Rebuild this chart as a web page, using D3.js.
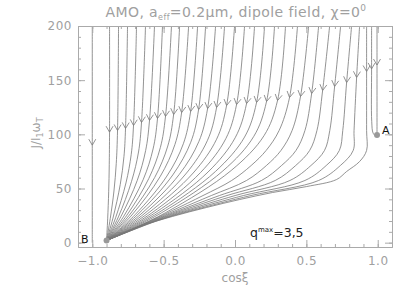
<!DOCTYPE html>
<html>
<head>
<meta charset="utf-8">
<script src="https://cdn.jsdelivr.net/npm/d3@7"></script>
<style>
body { margin: 0; background: #fff; }
text { font-family: "DejaVu Sans", sans-serif; }
</style>
</head>
<body>
<svg id="chart" width="415" height="297"></svg>
<script>
// axis ticks
var xTicks = [-1.0, -0.5, 0.0, 0.5, 1.0];
var yTicks = [0, 50, 100, 150, 200];
var xMinor = d3.range(-1.1, 1.11, 0.1);
var yMinor = d3.range(0, 201, 10);

// attractor points
var pointA = [0.995, 99.5];
var pointB = [-0.9, 2];

// trajectories [cos xi, J], ordered from top to bottom; index 1 carries the arrow
var poleLine = [[-1.0, 200], [-1.0, 90], [-1.0, 0]];

var leftFan = [
  [[-0.879,200],[-0.879,102],[-0.881,72],[-0.885,47],[-0.892,22],[-0.9,2]],
  [[-0.816,200],[-0.823,103.5],[-0.832,73.1],[-0.848,47.7],[-0.874,22.3],[-0.9,2]],
  [[-0.753,200],[-0.767,105.4],[-0.778,79.5],[-0.804,53.7],[-0.855,22.7],[-0.9,2]],
  [[-0.690,200],[-0.711,108.1],[-0.727,81.6],[-0.764,55.1],[-0.836,23.2],[-0.9,2]],
  [[-0.627,200],[-0.655,110.9],[-0.676,83.7],[-0.725,56.5],[-0.817,23.8],[-0.9,2]],
  [[-0.564,200],[-0.599,112.8],[-0.626,85.1],[-0.685,57.4],[-0.799,24.2],[-0.9,2]],
  [[-0.508,200],[-0.543,114.6],[-0.574,86.5],[-0.643,58.3],[-0.779,24.5],[-0.9,2]],
  [[-0.445,200],[-0.487,116.5],[-0.523,87.8],[-0.604,59.2],[-0.760,24.9],[-0.9,2]],
  [[-0.388,200],[-0.430,118.3],[-0.471,89.2],[-0.563,60.1],[-0.741,25.3],[-0.9,2]],
  [[-0.325,200],[-0.374,120.1],[-0.421,90.6],[-0.524,61.1],[-0.722,25.6],[-0.9,2]],
  [[-0.262,200],[-0.311,121.1],[-0.362,91.3],[-0.477,61.5],[-0.700,25.8],[-0.9,2]],
  [[-0.206,200],[-0.255,122.9],[-0.310,92.7],[-0.436,62.5],[-0.680,26.2],[-0.9,2]],
  [[-0.136,200],[-0.192,123.8],[-0.253,93.4],[-0.391,62.9],[-0.659,26.4],[-0.9,2]],
  [[-0.073,200],[-0.129,124.8],[-0.194,94.1],[-0.345,63.4],[-0.637,26.6],[-0.9,2]],
  [[-0.003,200],[-0.059,126.6],[-0.129,95.5],[-0.293,64.3],[-0.612,26.9],[-0.9,2]],
  [[0.067,200],[0.011,127.5],[-0.064,96.1],[-0.241,64.8],[-0.587,27.1],[-0.9,2]],
  [[0.137,200],[0.081,128.4],[0.001,96.8],[-0.189,65.2],[-0.563,27.3],[-0.9,2]],
  [[0.207,200],[0.151,129.4],[0.067,97.5],[-0.137,65.7],[-0.538,27.5],[-0.9,2]],
  [[0.277,200],[0.221,130.3],[0.132,98.2],[-0.085,66.2],[-0.513,27.7],[-0.9,2]],
  [[0.354,200],[0.298,131.2],[0.204,98.9],[-0.027,66.6],[-0.485,27.8],[-0.9,2]]
];

var rightFan = [
  [[0.438,200],[0.382,134.0],[0.309,103.5],[0.218,85.1],[0.113,71.2],[-0.023,57.4],[-0.224,43.5],[-0.438,29.7],[-0.588,20.5],[-0.9,2]],
  [[0.516,200],[0.459,134.9],[0.400,103.5],[0.322,85.1],[0.220,71.2],[0.081,57.4],[-0.166,43.5],[-0.414,29.7],[-0.579,20.5],[-0.9,2]],
  [[0.586,200],[0.537,137.7],[0.490,103.5],[0.427,85.1],[0.326,71.2],[0.186,57.4],[-0.109,43.5],[-0.391,29.7],[-0.571,20.5],[-0.9,2]],
  [[0.663,200],[0.614,140.5],[0.574,103.5],[0.523,85.1],[0.425,71.2],[0.282,57.4],[-0.056,43.5],[-0.369,29.7],[-0.562,20.5],[-0.9,2]],
  [[0.740,200],[0.698,144.2],[0.664,103.5],[0.627,85.1],[0.532,71.2],[0.385,57.4],[0.001,43.5],[-0.345,29.7],[-0.554,20.5],[-0.9,2]],
  [[0.817,200],[0.782,147.8],[0.755,103.5],[0.731,85.1],[0.639,71.2],[0.490,57.4],[0.059,43.5],[-0.322,29.7],[-0.545,20.5],[-0.9,2]],
  [[0.873,200],[0.852,152.5],[0.834,103.5],[0.828,85.1],[0.738,71.2],[0.586,57.4],[0.112,43.5],[-0.300,29.7],[-0.538,20.5],[-0.9,2]]
];

// lowest trajectory, hugging the bottom of the bundle
var separatrix = [[0.922,200],[0.922,158],[0.922,103.5],[0.922,85.1],[0.873,74.9],[0.782,65.7],[0.712,58.3],
  [0.502,51.8],[0.263,46.3],[0.032,39.8],[-0.199,32.5],[-0.438,24.2],[-0.669,14.9],[-0.9,2]];

// the two that end on A
var toA = [
  [[0.957,200],[0.957,160.4],[0.958,112],[0.968,101],[0.99,98]],
  [[0.995,200],[0.995,164],[0.995,100]]
];

var allTracks = [poleLine].concat(leftFan, rightFan, [separatrix], toA);

var svg = d3.select('#chart');
var x = d3.scaleLinear().domain([-1.1, 1.1]).range([78, 392]);
var y = d3.scaleLinear().domain([-4, 200]).range([247, 26]);

var axisColor = '#aaa';
var textColor = '#a0a0a0';
var trackColor = '#777';

svg.append('clipPath').attr('id', 'plotClip')
  .append('rect').attr('x', 78).attr('y', 26).attr('width', 314).attr('height', 221);

var line = d3.line()
  .x(function(d) { return x(d[0]); })
  .y(function(d) { return y(d[1]); })
  .curve(d3.curveCatmullRom.alpha(0.5));

var trackG = svg.append('g').attr('clip-path', 'url(#plotClip)');
trackG.selectAll('path.track')
  .data(allTracks)
  .enter().append('path')
  .attr('class', 'track')
  .attr('d', line)
  .attr('fill', 'none')
  .attr('stroke', trackColor)
  .attr('stroke-width', 0.8);

// V shaped arrowheads at point index 1
trackG.selectAll('path.arrow')
  .data(allTracks)
  .enter().append('path')
  .attr('class', 'arrow')
  .attr('d', function(t) {
    var tx = x(t[1][0]), ty = y(t[1][1]);
    var dx = x(t[2][0]) - x(t[0][0]), dy = y(t[2][1]) - y(t[0][1]);
    var len = Math.sqrt(dx * dx + dy * dy);
    dx /= len; dy /= len;
    var bx = tx - dx * 6, by = ty - dy * 6;
    var nx = -dy * 3.5, ny = dx * 3.5;
    return 'M' + (bx + nx) + ',' + (by + ny) + 'L' + tx + ',' + ty + 'L' + (bx - nx) + ',' + (by - ny);
  })
  .attr('fill', 'none')
  .attr('stroke', trackColor)
  .attr('stroke-width', 0.8);

// axes, ticks pointing inward on all four sides
function styleAxis(g) {
  g.selectAll('path.domain').attr('stroke', axisColor);
  g.selectAll('line').attr('stroke', axisColor);
  g.selectAll('text').attr('fill', textColor).style('font-size', '12px')
    .style('letter-spacing', '0.5px')
    .style('font-family', '"DejaVu Sans", sans-serif');
}
var fmtX = d3.format('.1f');

svg.append('g').attr('transform', 'translate(0,247)')
  .call(d3.axisBottom(x).tickValues(xTicks).tickSize(-7).tickSizeOuter(0).tickPadding(9).tickFormat(fmtX))
  .call(styleAxis);
svg.append('g').attr('transform', 'translate(0,247)')
  .call(d3.axisBottom(x).tickValues(xMinor).tickSize(-3).tickSizeOuter(0).tickFormat(''))
  .call(styleAxis);
svg.append('g').attr('transform', 'translate(0,26)')
  .call(d3.axisTop(x).tickValues(xTicks).tickSize(-7).tickSizeOuter(0).tickFormat(''))
  .call(styleAxis);
svg.append('g').attr('transform', 'translate(0,26)')
  .call(d3.axisTop(x).tickValues(xMinor).tickSize(-3).tickSizeOuter(0).tickFormat(''))
  .call(styleAxis);
svg.append('g').attr('transform', 'translate(78,0)')
  .call(d3.axisLeft(y).tickValues(yTicks).tickSize(-7).tickSizeOuter(0).tickPadding(6))
  .call(styleAxis);
svg.append('g').attr('transform', 'translate(78,0)')
  .call(d3.axisLeft(y).tickValues(yMinor).tickSize(-3).tickSizeOuter(0).tickFormat(''))
  .call(styleAxis);
svg.append('g').attr('transform', 'translate(392,0)')
  .call(d3.axisRight(y).tickValues(yTicks).tickSize(-7).tickSizeOuter(0).tickFormat(''))
  .call(styleAxis);
svg.append('g').attr('transform', 'translate(392,0)')
  .call(d3.axisRight(y).tickValues(yMinor).tickSize(-3).tickSizeOuter(0).tickFormat(''))
  .call(styleAxis);

// attractor dots and labels
svg.selectAll('circle.pt')
  .data([pointA, pointB])
  .enter().append('circle')
  .attr('class', 'pt')
  .attr('cx', function(d) { return x(d[0]); })
  .attr('cy', function(d) { return y(d[1]); })
  .attr('r', 3)
  .attr('fill', '#999');

svg.append('text').attr('x', x(pointA[0]) + 5).attr('y', y(pointA[1]) - 1)
  .style('font-size', '11px').attr('fill', '#111').text('A');
svg.append('text').attr('x', 81).attr('y', 243)
  .style('font-size', '11px').attr('fill', '#111').text('B');

// q max note
var q = svg.append('text').attr('x', 250).attr('y', 237)
  .style('font-size', '12.5px').attr('fill', '#222');
q.append('tspan').text('q');
q.append('tspan').attr('dy', -5).style('font-size', '7px').text('max');
q.append('tspan').attr('dy', 5).text('=3,5');

// title
var title = svg.append('text').attr('x', 236).attr('y', 17).attr('text-anchor', 'middle')
  .style('font-size', '14px').style('letter-spacing', '0.4px').attr('fill', textColor);
title.append('tspan').text('AMO, a');
title.append('tspan').attr('dy', 3).style('font-size', '8px').text('eff');
title.append('tspan').attr('dy', -3).text('=0.2\u03bcm, dipole field, \u03c7=0');
title.append('tspan').attr('dy', -6).style('font-size', '9px').text('0');

// axis titles
svg.append('text').attr('x', 235).attr('y', 282).attr('text-anchor', 'middle')
  .style('font-size', '12px').attr('fill', textColor).text('cos\u03be');

var yl = svg.append('text').attr('transform', 'translate(40,133) rotate(-90)')
  .attr('text-anchor', 'middle').style('font-size', '12px').attr('fill', textColor);
yl.append('tspan').text('J/I');
yl.append('tspan').attr('dy', 3).style('font-size', '8px').text('1');
yl.append('tspan').attr('dy', -3).text('\u03c9');
yl.append('tspan').attr('dy', 3).style('font-size', '8px').text('T');
</script>
</body>
</html>
